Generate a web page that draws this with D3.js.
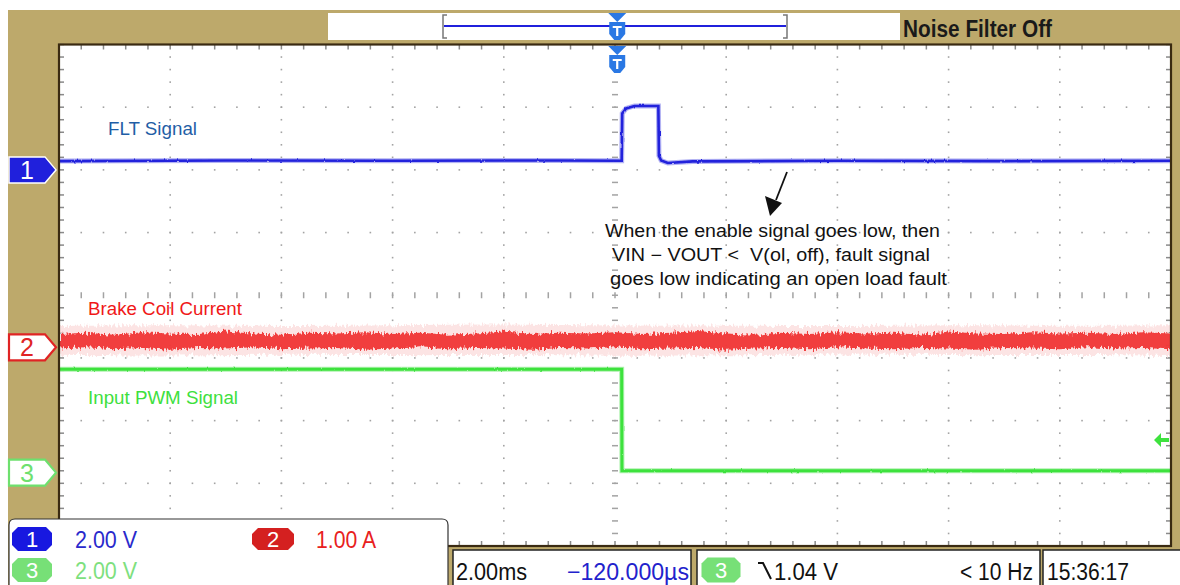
<!DOCTYPE html>
<html><head><meta charset="utf-8">
<script src="https://cdn.jsdelivr.net/npm/d3@7"></script>
<style>body{margin:0;background:#fff}svg{display:block}</style>
</head><body>
<svg id="c" width="1180" height="585"></svg>
<script>
// ---------------- data ----------------
const channelNames = ["FLT Signal", "Brake Coil Current", "Input PWM Signal"];
const channelScaleLabels = ["2.00 V", "1.00 A", "2.00 V"];
const channelOffsetDiv = [2.0, -0.83, -2.83];   // ground marker position, divisions from centre
const channelPerDiv = [2, 1, 2];                // volts or amps per division

// channel 1: FLT signal (V)
const fltTime  = [-10, -7, -4, -1, 0.12, 0.13, 0.2, 0.35, 0.78, 0.79, 0.83, 0.95, 1.4, 4, 7, 10];
const fltVolts = [0.28, 0.30, 0.29, 0.30, 0.29, 1.80, 1.96, 2.04, 2.04, 0.45, 0.30, 0.22, 0.27, 0.29, 0.28, 0.29];

// channel 3: input PWM (V)
const pwmTime  = [-10, 0.12, 0.125, 10];
const pwmVolts = [3.3, 3.3, 0.06, 0.06];

// channel 2: brake coil current envelope (A)
const coilTime = [-10,-9.5,-9,-8.5,-8,-7.5,-7,-6.5,-6,-5.5,-5,-4.5,-4,-3.5,-3,-2.5,-2,-1.5,-1,-0.5,0,
                  0.5,1,1.5,2,2.5,3,3.5,4,4.5,5,5.5,6,6.5,7,7.5,8,8.5,9,9.5,10];
const coilHigh = [0.21,0.23,0.20,0.24,0.22,0.21,0.25,0.22,0.20,0.23,0.22,0.24,0.21,0.23,0.20,0.22,0.25,0.21,0.23,0.22,0.24,
                  0.21,0.23,0.26,0.22,0.20,0.23,0.21,0.24,0.22,0.23,0.20,0.25,0.22,0.21,0.24,0.22,0.23,0.21,0.24,0.22];
const coilLow  = [-0.02,0.00,-0.03,-0.01,-0.04,-0.01,-0.02,0.00,-0.03,-0.02,-0.01,-0.04,-0.02,0.00,-0.03,-0.01,-0.02,-0.04,-0.01,-0.02,0.00,
                  -0.03,-0.02,-0.01,-0.04,-0.02,-0.01,-0.03,0.00,-0.02,-0.03,-0.01,-0.02,-0.04,-0.01,-0.02,-0.03,0.00,-0.02,-0.01,-0.03];
const coilHaloTime = [-10,-8,-6,-4,-2,0,2,4,6,8,10];
const coilHaloHigh = [0.34,0.36,0.33,0.35,0.37,0.34,0.35,0.33,0.36,0.34,0.35];
const coilHaloLow  = [-0.12,-0.14,-0.11,-0.13,-0.12,-0.14,-0.13,-0.11,-0.13,-0.12,-0.14];

const triggerTime = 0.04;     // ms
const triggerLevel = 1.04;    // V on channel 3
const timebaseLabel = "2.00ms";
const delayLabel = "\u2212120.000\u00b5s";
const triggerLabel = "1.04 V";
const freqLabel = "< 10 Hz";
const clockLabel = "15:36:17";
const filterLabel = "Noise Filter Off";
const noteLines = ["When the enable signal goes low, then",
                   "VIN \u2212 VOUT <\u00a0 V(ol, off), fault signal",
                   "goes low indicating an open load fault"];

// ---------------- layout ----------------
const svg = d3.select("#c");
const L = 59, R = 1171, T = 44.5, B = 546;
const x = d3.scaleLinear().domain([-10, 10]).range([L, R]);
const yDiv = d3.scaleLinear().domain([-4, 4]).range([B, T]);
const chY = i => v => yDiv(channelOffsetDiv[i] + v / channelPerDiv[i]);

const TAN = "#bda96b", BORDER = "#3a2a12";
const BLUE = "#2020dc", RED = "#f02424", GREEN = "#3ee23e";

const defs = svg.append("defs");
const fz = defs.append("filter").attr("id", "fuzz").attr("x", "-2%").attr("y", "-80%").attr("width", "104%").attr("height", "260%");
fz.append("feTurbulence").attr("type", "fractalNoise").attr("baseFrequency", "0.45 0.12").attr("numOctaves", 2).attr("seed", 4).attr("result", "n");
fz.append("feDisplacementMap").attr("in", "SourceGraphic").attr("in2", "n").attr("scale", 9).attr("xChannelSelector", "R").attr("yChannelSelector", "G");
const fz2 = defs.append("filter").attr("id", "fuzzLine").attr("x", "-2%").attr("y", "-80%").attr("width", "104%").attr("height", "260%");
fz2.append("feTurbulence").attr("type", "fractalNoise").attr("baseFrequency", "0.3 0.1").attr("numOctaves", 1).attr("seed", 7).attr("result", "n");
fz2.append("feDisplacementMap").attr("in", "SourceGraphic").attr("in2", "n").attr("scale", 2.5).attr("xChannelSelector", "R").attr("yChannelSelector", "G");

svg.append("rect").attr("x", 8).attr("y", 10).attr("width", 1172).attr("height", 575).attr("fill", TAN);

// plot area
svg.append("rect").attr("x", L).attr("y", T).attr("width", R - L).attr("height", B - T).attr("fill", "#fff");

const grid = svg.append("g").attr("fill", "#a3a3a3");
const minorX = d3.range(-10, 10.001, 0.4);
const minorY = d3.range(-4, 4.001, 0.2);
for (let k = -8; k <= 8; k += 2) {
  const cx = x(k);
  minorY.forEach(m => {
    if (k === 0) grid.append("rect").attr("x", cx - 3).attr("y", yDiv(m) - 0.75).attr("width", 6).attr("height", 1.5);
    else grid.append("rect").attr("x", cx - 0.8).attr("y", yDiv(m) - 0.8).attr("width", 1.6).attr("height", 1.6);
  });
}
for (let j = -3; j <= 3; j++) {
  const cy = yDiv(j);
  minorX.forEach(t => {
    if (j === 0) grid.append("rect").attr("x", x(t) - 0.75).attr("y", cy - 3).attr("width", 1.5).attr("height", 6);
    else grid.append("rect").attr("x", x(t) - 0.8).attr("y", cy - 0.8).attr("width", 1.6).attr("height", 1.6);
  });
}
const bt = svg.append("g").attr("fill", "#8a8a8a");
minorX.forEach(t => {
  bt.append("rect").attr("x", x(t) - 0.75).attr("y", T).attr("width", 1.5).attr("height", 5);
  bt.append("rect").attr("x", x(t) - 0.75).attr("y", B - 5).attr("width", 1.5).attr("height", 5);
});
minorY.forEach(m => {
  bt.append("rect").attr("x", L).attr("y", yDiv(m) - 0.75).attr("width", 5).attr("height", 1.5);
  bt.append("rect").attr("x", R - 5).attr("y", yDiv(m) - 0.75).attr("width", 5).attr("height", 1.5);
});

// ---------------- traces ----------------
const plotClip = defs.append("clipPath").attr("id", "pc");
plotClip.append("rect").attr("x", L).attr("y", T).attr("width", R - L).attr("height", B - T);
const traces = svg.append("g").attr("clip-path", "url(#pc)");

// channel 2 halo + band
const y2 = chY(1);
traces.append("path")
  .datum(coilHaloTime.map((t, i) => [t, coilHaloHigh[i], coilHaloLow[i]]))
  .attr("fill", "#fcdcdc").attr("opacity", 0.75).attr("filter", "url(#fuzz)")
  .attr("d", d3.area().x(d => x(d[0])).y0(d => y2(d[2])).y1(d => y2(d[1])).curve(d3.curveBasis));
traces.append("path")
  .datum(coilTime.map((t, i) => [t, coilHigh[i], coilLow[i]]))
  .attr("fill", RED).attr("opacity", 0.85).attr("filter", "url(#fuzz)")
  .attr("d", d3.area().x(d => x(d[0])).y0(d => y2(d[2])).y1(d => y2(d[1])));

// channel 3
const y3 = chY(2);
const pwmLine = d3.line().x(d => x(d[0])).y(d => y3(d[1]));
const pwmData = pwmTime.map((t, i) => [t, pwmVolts[i]]);
traces.append("path").datum(pwmData).attr("fill", "none").attr("stroke", "#b0f2b0").attr("stroke-width", 5).attr("d", pwmLine);
traces.append("path").datum(pwmData).attr("fill", "none").attr("stroke", GREEN).attr("stroke-width", 3).attr("filter", "url(#fuzzLine)").attr("d", pwmLine);

// channel 1
const y1 = chY(0);
const fltLine = d3.line().x(d => x(d[0])).y(d => y1(d[1]));
const fltData = fltTime.map((t, i) => [t, fltVolts[i]]);
traces.append("path").datum(fltData).attr("fill", "none").attr("stroke", "#b3b3f3").attr("stroke-width", 5).attr("d", fltLine);
traces.append("path").datum(fltData).attr("fill", "none").attr("stroke", BLUE).attr("stroke-width", 2.6).attr("filter", "url(#fuzzLine)").attr("d", fltLine);

// trigger level marker (right side, channel 3)
{
  const ty = y3(triggerLevel);
  svg.append("path").attr("fill", GREEN)
    .attr("d", `M${R - 17},${ty} L${R - 10},${ty - 7} L${R - 10},${ty - 2} L${R - 2},${ty - 2} L${R - 2},${ty + 2} L${R - 10},${ty + 2} L${R - 10},${ty + 7} Z`);
}

svg.append("rect").attr("x", L).attr("y", T).attr("width", R - L).attr("height", B - T)
  .attr("fill", "none").attr("stroke", BORDER).attr("stroke-width", 2.2);

// ---------------- labels ----------------
const font = "Liberation Sans, Arial, sans-serif";
const labelColors = ["#1f5ea6", "#f01818", "#3ee03e"];
const labelPos = [[108, 135], [88, 315], [88, 404]];
const labelWidth = [89, 154, 150];
channelNames.forEach((n, i) => {
  svg.append("text").attr("x", labelPos[i][0]).attr("y", labelPos[i][1]).attr("font-family", font)
    .attr("font-size", 17.5).attr("textLength", labelWidth[i]).attr("lengthAdjust", "spacingAndGlyphs")
    .attr("fill", labelColors[i]).text(n);
});

// annotation
const noteX = [605, 612, 610], noteW = [335, 318, 337];
noteLines.forEach((s, i) => {
  svg.append("text").attr("x", noteX[i]).attr("y", 237 + i * 24)
    .attr("textLength", noteW[i]).attr("lengthAdjust", "spacingAndGlyphs")
    .attr("font-family", font).attr("font-size", 17.5).attr("fill", "#111").text(s);
});
svg.append("line").attr("x1", 787).attr("y1", 172).attr("x2", 776).attr("y2", 200)
  .attr("stroke", "#111").attr("stroke-width", 1.8);
svg.append("path").attr("d", "M765,196 L782,203 L770,216 Z").attr("fill", "#111");

// channel ground markers
const markerFill = [BLUE, "#fff", "#fff"];
const markerStroke = ["#fff", "#e02424", "#6ee06e"];
const markerText = ["#fff", "#e02424", "#6ee06e"];
channelNames.forEach((n, i) => {
  const cy = chY(i)(0);
  svg.append("path")
    .attr("d", `M9,${cy - 13} L45,${cy - 13} L56,${cy} L45,${cy + 13} L9,${cy + 13} Z`)
    .attr("fill", markerFill[i]).attr("stroke", markerStroke[i]).attr("stroke-width", i === 0 ? 1.5 : 2.2);
  svg.append("text").attr("x", 27).attr("y", cy + 9).attr("text-anchor", "middle")
    .attr("font-family", font).attr("font-size", 25).attr("fill", markerText[i]).text(i + 1);
});

// ---------------- top bar ----------------
svg.append("rect").attr("x", 328).attr("y", 13).attr("width", 572).attr("height", 27).attr("fill", "#fff");
svg.append("path").attr("d", "M447,15 L443,15 L443,38 L447,38").attr("fill", "none").attr("stroke", "#777").attr("stroke-width", 1.5);
svg.append("path").attr("d", "M783,15 L787,15 L787,38 L783,38").attr("fill", "none").attr("stroke", "#777").attr("stroke-width", 1.5);
svg.append("line").attr("x1", 444).attr("x2", 786).attr("y1", 26).attr("y2", 26).attr("stroke", BLUE).attr("stroke-width", 2);
svg.append("text").attr("x", 903).attr("y", 37).attr("font-family", font).attr("font-size", 23).attr("font-weight", "bold")
  .attr("textLength", 149).attr("lengthAdjust", "spacingAndGlyphs").attr("fill", "#1a1a1a").text(filterLabel);

function trigPin(cx, top) {
  const g = svg.append("g").attr("fill", "#2a78e4");
  g.append("path").attr("d", `M${cx - 9},${top} L${cx + 9},${top} L${cx},${top + 9} Z`);
  g.append("path").attr("d", `M${cx - 8},${top + 9} L${cx + 8},${top + 9} L${cx + 8},${top + 21} L${cx + 3},${top + 27} L${cx - 3},${top + 27} L${cx - 8},${top + 21} Z`);
  svg.append("path").attr("d", `M${cx - 4.5},${top + 14} L${cx + 4.5},${top + 14} M${cx},${top + 14} L${cx},${top + 23}`)
    .attr("stroke", "#fff").attr("stroke-width", 2.2);
}
trigPin(x(triggerTime), 13);
trigPin(x(triggerTime), 46);

// ---------------- status bar ----------------
svg.append("rect").attr("x", 453).attr("y", 550).attr("width", 238).attr("height", 40).attr("fill", "#fff").attr("stroke", "#222").attr("stroke-width", 1.5);
svg.append("rect").attr("x", 697).attr("y", 550).attr("width", 343).attr("height", 40).attr("fill", "#fff").attr("stroke", "#222").attr("stroke-width", 1.5);
svg.append("rect").attr("x", 1043).attr("y", 550).attr("width", 140).attr("height", 40).attr("fill", "#fff").attr("stroke", "#222").attr("stroke-width", 1.5);

function stxt(s, x0, y0, w, col, size) {
  svg.append("text").attr("x", x0).attr("y", y0).attr("font-family", font).attr("font-size", size || 23)
    .attr("textLength", w).attr("lengthAdjust", "spacingAndGlyphs").attr("fill", col).text(s);
}
stxt(timebaseLabel, 456, 580, 71, "#111");
stxt(delayLabel, 567, 580, 122, "#2222cc");
svg.append("path").attr("d", "M758,563 L763,563 L771,579").attr("fill", "none").attr("stroke", "#111").attr("stroke-width", 2);
stxt(triggerLabel, 774, 580, 64, "#111");
stxt(freqLabel, 960, 580, 73, "#111");
stxt(clockLabel, 1047, 580, 82, "#111");

function badge(cx, cy, w, h, fill, label) {
  const hw = w / 2, hh = h / 2, c = 6;
  svg.append("path").attr("d",
    `M${cx - hw + c},${cy - hh} L${cx + hw - c},${cy - hh} L${cx + hw},${cy - hh + c} L${cx + hw},${cy + hh - c} L${cx + hw - c},${cy + hh} L${cx - hw + c},${cy + hh} L${cx - hw},${cy + hh - c} L${cx - hw},${cy - hh + c} Z`)
    .attr("fill", fill);
  svg.append("text").attr("x", cx).attr("y", cy + 8).attr("text-anchor", "middle").attr("font-family", font)
    .attr("font-size", 22).attr("fill", "#fff").text(label);
}
badge(721, 570, 39, 25, "#77e077", "3");

// left legend panel
svg.append("path").attr("d", "M9,585 L9,525 Q9,519 15,519 L442,519 Q448,519 448,525 L448,585")
  .attr("fill", "#fff").attr("stroke", "#333").attr("stroke-width", 1.2);
badge(32, 539, 40, 24, "#1818e0", "1");
badge(273, 539, 42, 22, "#d42020", "2");
badge(32, 570, 40, 24, "#77e077", "3");
stxt(channelScaleLabels[0], 75, 548, 62, "#2a2acc");
stxt(channelScaleLabels[1], 316, 548, 60, "#e82020");
stxt(channelScaleLabels[2], 75, 579, 62, "#7ee07e");
</script>
</body></html>
